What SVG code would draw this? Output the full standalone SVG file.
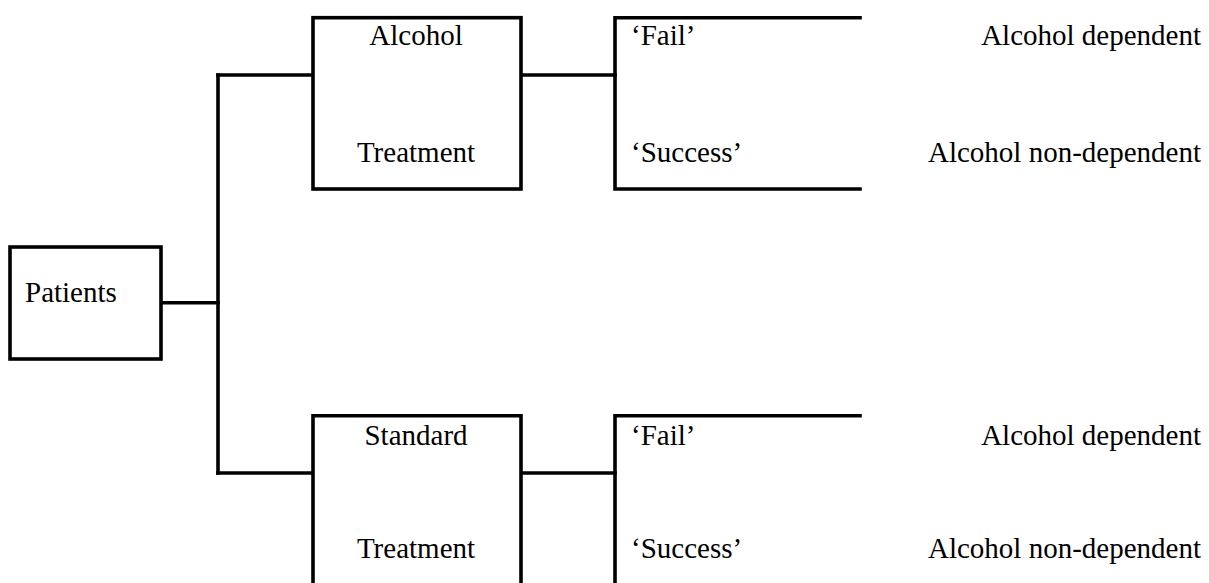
<svg xmlns="http://www.w3.org/2000/svg" width="1209" height="583" viewBox="0 0 1209 583">
  <style>
    .box { fill: #fff; stroke: #000; stroke-width: 3.6; }
    .edge { fill: none; stroke: #000; stroke-width: 3.6; stroke-linecap: square; }
    text { font-family: "Liberation Serif", "Times New Roman", serif; font-size: 29px; fill: #000; }
    .mid { text-anchor: middle; }
    .end { text-anchor: end; }
  </style>
  <rect width="1209" height="583" fill="#fff"/>

  <!-- connectors -->
  <g id="connectors">
    <path class="edge" d="M161,302.7 H218"/>
    <path class="edge" d="M218,75 V473"/>
    <path class="edge" d="M218,75 H313"/>
    <path class="edge" d="M218,473 H313"/>
    <path class="edge" d="M521,75 H615"/>
    <path class="edge" d="M521,473 H615"/>
  </g>

  <!-- root -->
  <g id="patients">
    <rect class="box" x="10" y="247" width="151" height="112"/>
    <text x="25" y="302">Patients</text>
  </g>

  <!-- treatment arms -->
  <g id="alcohol-treatment">
    <rect class="box" x="313" y="17.7" width="208" height="171.3"/>
    <text class="mid" x="416" y="45">Alcohol</text>
    <text class="mid" x="416" y="161.5">Treatment</text>
  </g>
  <g id="standard-treatment">
    <path class="box" d="M313,590 V415.8 H521 V590"/>
    <text class="mid" x="416" y="445">Standard</text>
    <text class="mid" x="416" y="558">Treatment</text>
  </g>

  <!-- outcomes -->
  <g id="alcohol-outcome">
    <path class="edge" d="M860,17.7 H615 V189 H860" stroke-linecap="butt"/>
    <text x="631" y="45">‘Fail’</text>
    <text x="631" y="161.5">‘Success’</text>
  </g>
  <g id="standard-outcome">
    <path class="edge" d="M860,415.8 H615 V590" stroke-linecap="butt"/>
    <text x="631" y="445">‘Fail’</text>
    <text x="631" y="558">‘Success’</text>
  </g>

  <!-- end states -->
  <g id="alcohol-states">
    <text class="end" x="1201" y="45">Alcohol dependent</text>
    <text class="end" x="1201" y="161.5">Alcohol non-dependent</text>
  </g>
  <g id="standard-states">
    <text class="end" x="1201" y="445">Alcohol dependent</text>
    <text class="end" x="1201" y="558">Alcohol non-dependent</text>
  </g>
</svg>
